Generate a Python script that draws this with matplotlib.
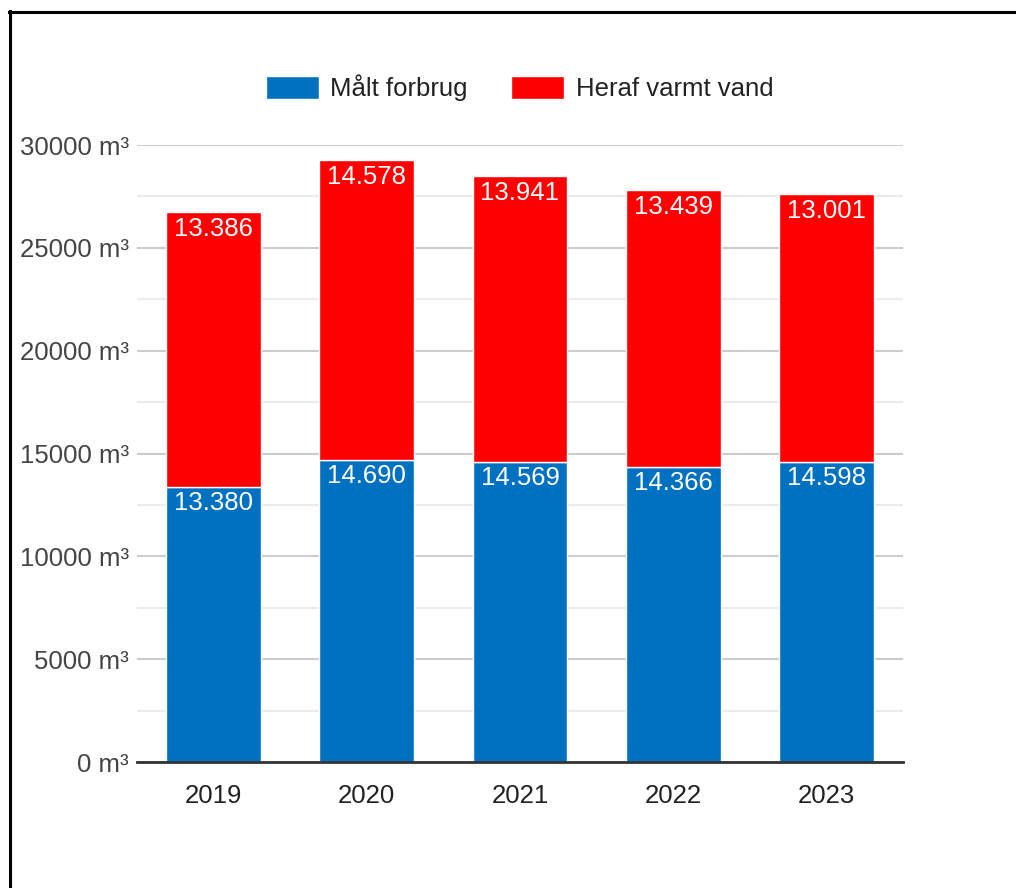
import numpy as np
import matplotlib.pyplot as plt
from matplotlib.lines import Line2D

# Data
aar = ["2019", "2020", "2021", "2022", "2023"]
maalt_forbrug = [13380, 14690, 14569, 14366, 14598]
varmt_vand = [13386, 14578, 13941, 13439, 13001]
serie_navne = ["Målt forbrug", "Heraf varmt vand"]
y_ticks = [0, 5000, 10000, 15000, 20000, 25000, 30000]

blaa = "#0070c0"
roed = "#ff0000"

plt.rcParams['font.family'] = ['Liberation Sans', 'DejaVu Sans']

fig = plt.figure(figsize=(10.16, 8.88), dpi=100)
ax = fig.add_axes([137 / 1016, 1 - 762 / 888, (903 - 137) / 1016, (762 - 145) / 888])

x = np.arange(len(aar))
bredde = 0.62
b1 = ax.bar(x, maalt_forbrug, bredde, color=blaa, edgecolor="white", linewidth=1,
            label=serie_navne[0], zorder=3)
b2 = ax.bar(x, varmt_vand, bredde, bottom=maalt_forbrug, color=roed, edgecolor="white",
            linewidth=1, label=serie_navne[1], zorder=3)


def dk(v):
    # dansk tusindtalsseparator
    return f"{v:,}".replace(",", ".")


for i in range(len(aar)):
    ax.annotate(dk(maalt_forbrug[i]), (x[i], maalt_forbrug[i]), xytext=(0, -16),
                textcoords="offset pixels", ha="center", va="center", fontsize=18.5,
                color="white", zorder=4)
    top = maalt_forbrug[i] + varmt_vand[i]
    ax.annotate(dk(varmt_vand[i]), (x[i], top), xytext=(0, -17),
                textcoords="offset pixels", ha="center", va="center", fontsize=18.5,
                color="white", zorder=4)

ax.set_xlim(-0.5, len(aar) - 0.5)
ax.set_ylim(0, 30000)
ax.set_xticks(x)
ax.set_xticklabels(aar)
ax.set_yticks(y_ticks)
ax.set_yticklabels([f"{v} m³" for v in y_ticks])
ax.set_yticks(np.arange(2500, 30000, 5000), minor=True)
ax.tick_params(axis="both", length=0, labelsize=18.5, colors="#444444")
ax.tick_params(axis="x", pad=16, colors="#222222")
ax.tick_params(axis="y", pad=6)
ax.tick_params(which="minor", length=0)
ax.grid(axis="y", which="major", color="#cccccc", linewidth=1.5, zorder=0)
ax.grid(axis="y", which="minor", color="#ebebeb", linewidth=1.5, zorder=0)
for s in ["top", "right", "left"]:
    ax.spines[s].set_visible(False)
ax.spines["bottom"].set_color("#333333")
ax.spines["bottom"].set_linewidth(2)
ax.spines["bottom"].set_zorder(5)

fig.legend(handles=[b1, b2], labels=serie_navne, loc="center", ncol=2,
           bbox_to_anchor=(519.5 / 1016, 1 - 88 / 888), frameon=False, fontsize=18.5,
           handlelength=2.05, handleheight=1.05, handletextpad=0.45, columnspacing=1.7,
           labelcolor="#222222")

# sort ramme (venstre og top)
fig.add_artist(Line2D([9.5 / 1016, 9.5 / 1016], [0, 1 - 11 / 888], color="black",
                      linewidth=2.2, transform=fig.transFigure))
fig.add_artist(Line2D([8.5 / 1016, 1], [1 - 12 / 888, 1 - 12 / 888], color="black",
                      linewidth=2.2, transform=fig.transFigure))

fig.savefig("out.png", dpi=100)
